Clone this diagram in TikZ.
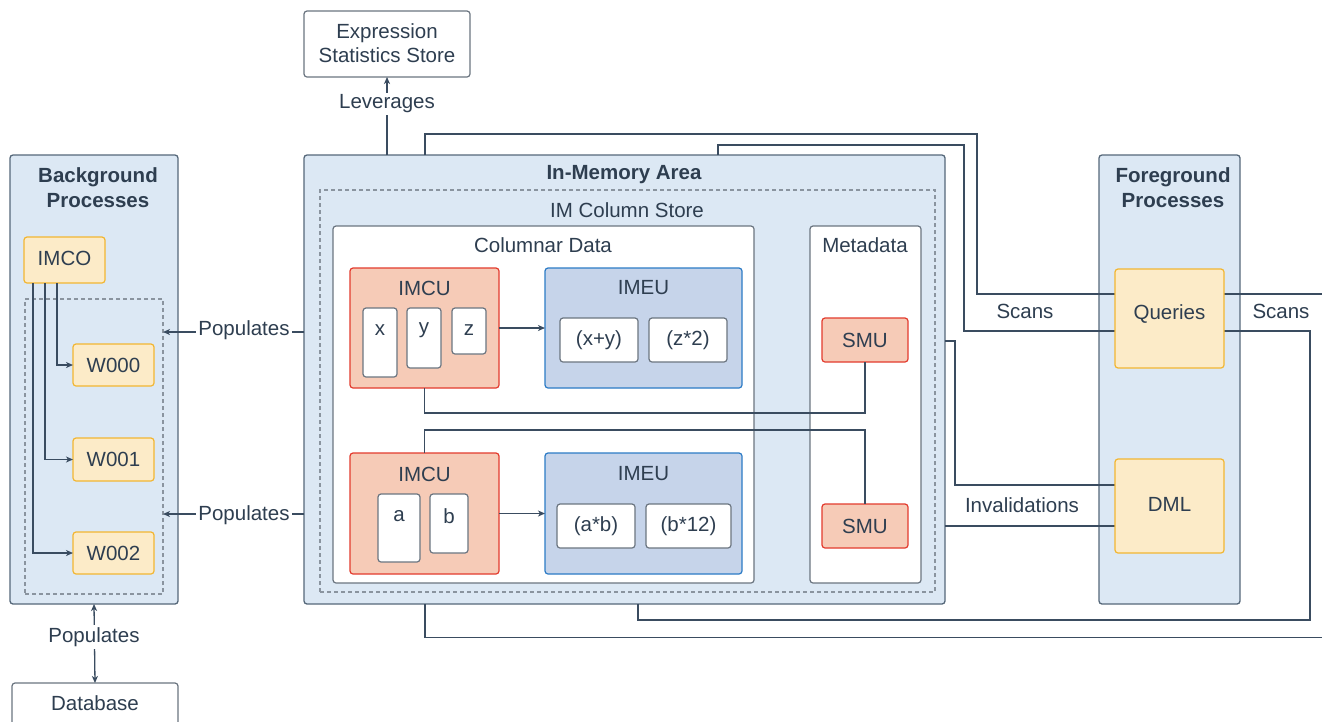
\documentclass[tikz,border=0pt]{standalone}
\usepackage{fontspec}
\setmainfont{Liberation Sans}
\usetikzlibrary{arrows.meta,calc}
\definecolor{txt}{HTML}{2E3E50}
\definecolor{panelfill}{HTML}{DCE8F4}
\definecolor{panelstroke}{HTML}{56687A}
\definecolor{orfill}{HTML}{FCEBC8}
\definecolor{orstroke}{HTML}{F2B632}
\definecolor{redfill}{HTML}{F6CBB7}
\definecolor{redstroke}{HTML}{E33B2E}
\definecolor{blfill}{HTML}{C6D4EA}
\definecolor{blstroke}{HTML}{2C7BC6}
\definecolor{whstroke}{HTML}{6B7580}
\definecolor{dashstroke}{HTML}{8A949F}
\definecolor{connc}{HTML}{3A4C60}
\newcommand{\dfs}{\fontsize{20.5}{24.5}\selectfont}
\begin{document}
\begin{tikzpicture}[x=1pt,y=-1pt,font=\dfs,text=txt,
  every node/.style={inner sep=0pt,outer sep=0pt},
  panel/.style={draw=panelstroke,fill=panelfill,line width=1.3pt,rounded corners=3pt},
  wbox/.style={draw=whstroke,fill=white,line width=1.2pt,rounded corners=3pt},
  orbox/.style={draw=orstroke,fill=orfill,line width=1.2pt,rounded corners=3pt},
  redbox/.style={draw=redstroke,fill=redfill,line width=1.2pt,rounded corners=3pt},
  blbox/.style={draw=blstroke,fill=blfill,line width=1.2pt,rounded corners=3pt},
  dashbox/.style={draw=dashstroke,line width=1.2pt,dash pattern=on 4pt off 3pt},
  conn/.style={draw=connc,line width=1.3pt},
  tip/.style={-{Stealth[length=7pt,width=6pt,inset=2pt]}},
  lbl/.style={fill=white,inner sep=2pt},
  ttl/.style={font=\dfs\bfseries,align=center}]
\useasboundingbox[fill=white] (0,0) rectangle (1322,721);

% ---------- panels ----------
\node[panel,minimum width=168,minimum height=449] (bg) at (94,379.5) {};
\node[panel,minimum width=641,minimum height=449] (imem) at (624.5,379.5) {};
\node[panel,minimum width=141,minimum height=449] (fg) at (1169.5,379.5) {};

\node[ttl] (bgt) at (98,187.5) {Background\\Processes};
\node[ttl] (fgt) at (1173,187.5) {Foreground\\Processes};
\node[ttl] (imt) at (624,175) {In-Memory Area};

% ---------- top store ----------
\node[wbox,minimum width=166,minimum height=66] (expr) at (387,44) {};
\node[align=center] (exprt) at (387,43) {Expression\\Statistics Store};

% ---------- background contents ----------
\node[dashbox,minimum width=138,minimum height=295] (wgrp) at (94,446.5) {};
\node[orbox,minimum width=81,minimum height=46] (imco) at (64.5,260) {};
\node (imcot) at (64.5,258) {IMCO};
\node[orbox,minimum width=81,minimum height=42] (w0) at (113.5,365) {W000};
\node[orbox,minimum width=81,minimum height=43] (w1) at (113.5,459.5) {W001};
\node[orbox,minimum width=81,minimum height=42] (w2) at (113.5,553) {W002};
\draw[conn,tip] ($(imco.south west)+(33,0)$) |- (w0.west);
\draw[conn,tip] ($(imco.south west)+(21,0)$) |- (w1.west);
\draw[conn,tip] ($(imco.south west)+(9,0)$) |- (w2.west);

% ---------- database ----------
\node[wbox,minimum width=166,minimum height=62] (db) at (95,714) {};
\node (dbt) at (95,703) {Database};
\draw[conn,{Stealth[length=7pt,width=6pt,inset=2pt]}-{Stealth[length=7pt,width=6pt,inset=2pt]}] (bg.south) -- (db.north);
\node[lbl] (popb) at (94,637) {Populates};

% ---------- in-memory contents ----------
\node[dashbox,minimum width=615,minimum height=402] (imcs) at (627.5,391) {};
\node (imcst) at (627,210) {IM Column Store};
\node[wbox,minimum width=421,minimum height=357] (cold) at (543.5,404.5) {};
\node (coldt) at (543,245) {Columnar Data};
\node[wbox,minimum width=111,minimum height=357] (meta) at (865.5,404.5) {};
\node (metat) at (865,245) {Metadata};

% IMCU / IMEU 1
\node[redbox,minimum width=149,minimum height=120] (imcu1) at (424.5,328) {};
\node (imcu1t) at (424.5,288) {IMCU};
\node[wbox,minimum width=34,minimum height=69] (cx) at (380,342.5) {};
\node (cxt) at (380,330) {x};
\node[wbox,minimum width=34,minimum height=60] (cy) at (424,338) {};
\node (cyt) at (424,330) {y};
\node[wbox,minimum width=34,minimum height=46] (cz) at (469,331) {};
\node (czt) at (469,330) {z};
\node[blbox,minimum width=197,minimum height=120] (imeu1) at (643.5,328) {};
\node (imeu1t) at (643.5,288) {IMEU};
\node[wbox,minimum width=78,minimum height=44] (exy) at (599,340) {(x+y)};
\node[wbox,minimum width=78,minimum height=44] (ez2) at (688,340) {(z*2)};
\draw[conn,tip] (imcu1.east) -- (imeu1.west);

% IMCU / IMEU 2
\node[redbox,minimum width=149,minimum height=121] (imcu2) at (424.5,513.5) {};
\node (imcu2t) at (424.5,474) {IMCU};
\node[wbox,minimum width=42,minimum height=68] (ca) at (399,528) {};
\node (cat) at (399,516) {a};
\node[wbox,minimum width=38,minimum height=59] (cb) at (449,523.5) {};
\node (cbt) at (449,516) {b};
\node[blbox,minimum width=197,minimum height=121] (imeu2) at (643.5,513.5) {};
\node (imeu2t) at (643.5,474) {IMEU};
\node[wbox,minimum width=78,minimum height=44] (eab) at (596,526) {(a*b)};
\node[wbox,minimum width=85,minimum height=44] (eb12) at (688.5,526) {(b*12)};
\draw[conn,tip] (imcu2.east) -- (imeu2.west);

% SMU
\node[redbox,minimum width=86,minimum height=44] (smu1) at (865,340) {SMU};
\node[redbox,minimum width=86,minimum height=44] (smu2) at (865,526) {SMU};
\draw[conn] (smu1.south) -- (865,413) -- (424.5,413) -- (imcu1.south);
\draw[conn] (imcu2.north) -- (424.5,430) -- (865,430) -- (smu2.north);

% ---------- populates to workers ----------
\coordinate (yp1) at (0,332);
\coordinate (yp2) at (0,514);
\draw[conn,tip] (imem.west |- yp1) -- (wgrp.east |- yp1);
\draw[conn,tip] (imem.west |- yp2) -- (wgrp.east |- yp2);
\node[lbl] (pop1) at (244,330) {Populates};
\node[lbl] (pop2) at (244,515) {Populates};

% ---------- leverages ----------
\draw[conn,tip] (imem.north -| expr.south) -- (expr.south);
\node[lbl] (lev) at (387,104) {Leverages};

% ---------- foreground connectors ----------
\coordinate (y341) at (0,341);
\coordinate (y526) at (0,526);
\draw[conn] ($(imem.north west)+(121,0)$) -- (425,134) -- (977,134) -- (977,294) -- (1115,294);
\draw[conn] ($(imem.north west)+(414,0)$) -- (718,145) -- (964,145) -- (964,331) -- (1115,331);
\draw[conn] (1224,294) -- (1335,294) -- (1335,637.5) -- (425,637.5) -- ($(imem.south west)+(121,0)$);
\draw[conn] (1224,331) -- (1310,331) -- (1310,620) -- (638,620) -- ($(imem.south west)+(334,0)$);
\draw[conn] (imem.east |- y341) -- (955,341) -- (955,485) -- (1115,485);
\draw[conn] (imem.east |- y526) -- (1115,526);

\node[orbox,minimum width=109,minimum height=99] (queries) at (1169.5,318.5) {};
\node (queriest) at (1169.5,314) {Queries};
\node[orbox,minimum width=109,minimum height=94] (dml) at (1169.5,506) {};
\node (dmlt) at (1169.5,504) {DML};

\node (scan1) at (1025,311) {Scans};
\node (scan2) at (1281,311) {Scans};
\node (inval) at (1022,505) {Invalidations};
\end{tikzpicture}
\end{document}
